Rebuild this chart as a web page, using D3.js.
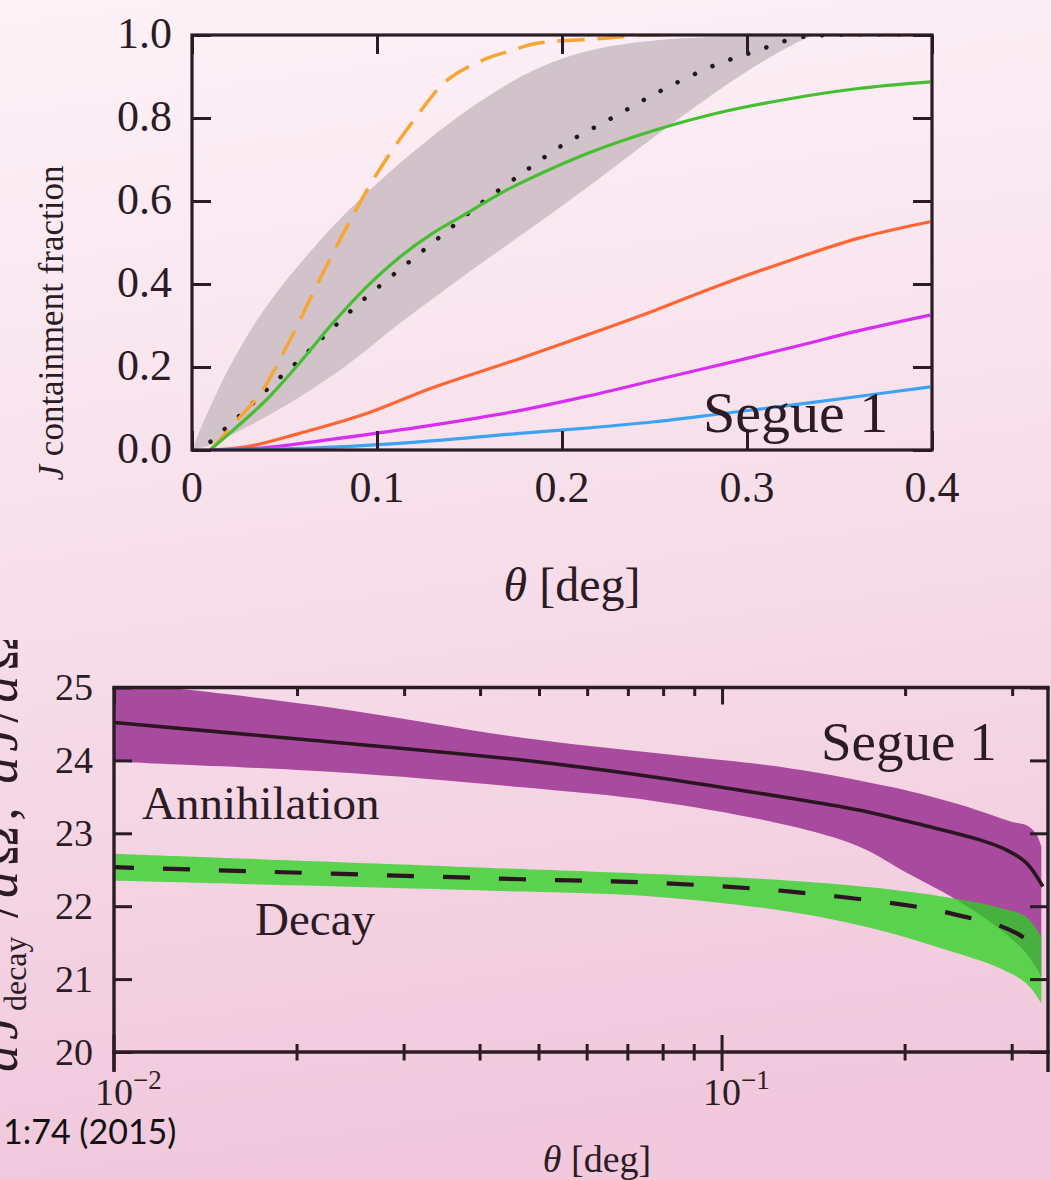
<!DOCTYPE html>
<html><head><meta charset="utf-8">
<script src="https://cdn.jsdelivr.net/npm/d3@7/dist/d3.min.js"></script>
<style>html,body{margin:0;padding:0;overflow:hidden;background:#f7e0ea}svg{display:block}</style>
</head><body>
<svg id="chart" width="1051" height="1180"></svg>
<script>
// ---------------- TOP PANEL DATA: J containment fraction vs theta [deg] ----------------
const topXTicks = [0, 0.1, 0.2, 0.3, 0.4];
const topXTickLabels = ["0", "0.1", "0.2", "0.3", "0.4"];
const topYTicks = [0, 0.2, 0.4, 0.6, 0.8, 1.0];
const topYTickLabels = ["0.0", "0.2", "0.4", "0.6", "0.8", "1.0"];

const bandUpper = [[0,0],[0.0043,0.048],[0.012,0.125],[0.0223,0.217],[0.035,0.312],[0.049,0.398],[0.062,0.468],[0.076,0.538],[0.094,0.618],[0.112,0.69],[0.13,0.756],[0.148,0.816],[0.165,0.866],[0.18,0.905],[0.2,0.943],[0.225,0.972],[0.25,0.987],[0.28,0.995],[0.31,0.999],[0.33,1.0],[0.4,1.0]];
const bandLower = [[0,0],[0.01,0.012],[0.022,0.038],[0.04,0.08],[0.058,0.127],[0.076,0.18],[0.094,0.24],[0.112,0.304],[0.13,0.364],[0.148,0.423],[0.177,0.515],[0.214,0.634],[0.25,0.755],[0.287,0.874],[0.31,0.94],[0.324,0.975],[0.338,1.0],[0.4,1.0]];
const dottedCurve = [[0.01,0.02],[0.027,0.088],[0.042,0.152],[0.058,0.217],[0.074,0.285],[0.09,0.352],[0.106,0.412],[0.122,0.47],[0.1385,0.53],[0.156,0.594],[0.172,0.646],[0.181,0.675],[0.199,0.731],[0.227,0.80],[0.254,0.867],[0.283,0.928],[0.304,0.96],[0.326,0.992],[0.345,1.0],[0.4,1.0]];
const orangeDashed = [[0.01,0.0],[0.0133,0.016],[0.025,0.075],[0.037,0.137],[0.053,0.265],[0.067,0.393],[0.0836,0.537],[0.0998,0.665],[0.1196,0.793],[0.1377,0.89],[0.1575,0.94],[0.1737,0.964],[0.1865,0.98],[0.223,0.992],[0.245,1.0],[0.4,1.0]];
const greenCurve = [[0.0097,0],[0.0223,0.048],[0.04,0.12],[0.058,0.209],[0.076,0.305],[0.0944,0.393],[0.1124,0.465],[0.13,0.522],[0.1485,0.57],[0.1665,0.618],[0.177,0.642],[0.214,0.715],[0.2505,0.771],[0.287,0.815],[0.324,0.847],[0.36,0.871],[0.399,0.887]];
const redCurve = [[0.01,0],[0.03,0.008],[0.058,0.04],[0.0944,0.088],[0.13,0.15],[0.177,0.22],[0.214,0.278],[0.2505,0.337],[0.287,0.40],[0.324,0.458],[0.36,0.51],[0.399,0.55]];
const magentaCurve = [[0.01,0],[0.04,0.006],[0.076,0.026],[0.13,0.06],[0.177,0.095],[0.214,0.13],[0.25,0.168],[0.287,0.207],[0.324,0.247],[0.36,0.287],[0.399,0.325]];
const blueCurve = [[0.01,0],[0.06,0.004],[0.112,0.016],[0.177,0.04],[0.214,0.053],[0.25,0.068],[0.287,0.088],[0.324,0.108],[0.36,0.129],[0.399,0.152]];

// ---------------- BOTTOM PANEL DATA: dJ/dOmega profiles vs theta [deg] (log) ----------------
const botXMajor = [0.01, 0.1];
const botXMajorLabels = [["10", "\u22122"], ["10", "\u22121"]];
const botXMinor = [0.02,0.03,0.04,0.05,0.06,0.07,0.08,0.09,0.2,0.3];
const botYTicks = [20, 21, 22, 23, 24, 25];
const botYTickLabels = ["20", "21", "22", "23", "24", "25"];

const annUpper = [[0.01,25.05],[0.0122,25.0],[0.023,24.72],[0.0469,24.31],[0.0776,24.10],[0.1297,23.89],[0.1908,23.63],[0.2465,23.39],[0.2988,23.16],[0.3167,23.11],[0.328,23.0],[0.335,22.82]];
const annLower = [[0.01,23.98],[0.023,23.84],[0.0469,23.63],[0.0776,23.44],[0.1297,23.10],[0.1678,22.82],[0.203,22.44],[0.2404,22.11],[0.2827,21.72],[0.3167,21.35],[0.335,21.03]];
const annCentral = [[0.01,24.52],[0.0203,24.29],[0.0469,24.005],[0.0776,23.77],[0.1297,23.48],[0.1678,23.32],[0.2169,23.10],[0.263,22.92],[0.294,22.77],[0.317,22.59],[0.337,22.27]];
const decUpper = [[0.01,22.72],[0.0469,22.51],[0.0776,22.44],[0.1297,22.35],[0.182,22.245],[0.2312,22.13],[0.2827,21.99],[0.3167,21.85],[0.335,21.58]];
const decLower = [[0.01,22.35],[0.0469,22.20],[0.0776,22.13],[0.1297,21.92],[0.182,21.67],[0.234,21.40],[0.2827,21.17],[0.3167,20.94],[0.335,20.67]];
const decCentral = [[0.01,22.535],[0.0469,22.37],[0.0776,22.32],[0.1297,22.20],[0.2169,21.97],[0.249,21.86],[0.28,21.76],[0.305,21.63],[0.32,21.52]];

// ---------------- STYLE ----------------
const serif = '"Liberation Serif","DejaVu Serif",serif';
const ink = "#2b1b25";

const svg = d3.select("#chart");
const defs = svg.append("defs");
const grad = defs.append("linearGradient").attr("id","bg").attr("x1",0).attr("y1",0).attr("x2",0.12).attr("y2",1);
grad.append("stop").attr("offset","0%").attr("stop-color","#fdf2f7");
grad.append("stop").attr("offset","50%").attr("stop-color","#f7dfea");
grad.append("stop").attr("offset","100%").attr("stop-color","#f1c8dc");
svg.append("rect").attr("width",1051).attr("height",1180).attr("fill","url(#bg)");

// ================= TOP PANEL =================
const xT = d3.scaleLinear().domain([0, 0.4]).range([192, 932]);
const yT = d3.scaleLinear().domain([0, 1]).range([450, 35]);

defs.append("clipPath").attr("id","clipTop").append("rect")
  .attr("x",xT(0)).attr("y",yT(1)).attr("width",xT(0.4)-xT(0)).attr("height",yT(0)-yT(1));

const gTop = svg.append("g").attr("clip-path","url(#clipTop)");
const lineT = d3.line().x(d=>xT(d[0])).y(d=>yT(d[1])).curve(d3.curveCatmullRom.alpha(0.5));
const bandPath = lineT(bandUpper) + "L" + lineT(bandLower.slice().reverse()).slice(1) + "Z";
gTop.append("path").attr("d", bandPath).attr("fill","#d2c3ca");

gTop.append("path").attr("d", lineT(dottedCurve)).attr("fill","none").attr("stroke","#241820")
  .attr("stroke-width",4.5).attr("stroke-linecap","round").attr("stroke-dasharray","0.1,19");
gTop.append("path").attr("d", lineT(orangeDashed)).attr("fill","none").attr("stroke","#f8a533")
  .attr("stroke-width",3.5).attr("stroke-dasharray","27,13");
const topSolid = [[greenCurve,"#47bd32"],[redCurve,"#ff6633"],[magentaCurve,"#d92ef2"],[blueCurve,"#3ea2f2"]];
topSolid.forEach(([data,col]) => {
  gTop.append("path").attr("d", lineT(data)).attr("fill","none").attr("stroke",col)
    .attr("stroke-width",3.2).attr("stroke-linejoin","round");
});

// ticks (inward on all four sides)
const tickStyle = g => { g.select(".domain").remove(); g.selectAll("line").attr("stroke",ink).attr("stroke-width",3); g.selectAll("text").remove(); };
svg.append("g").attr("transform",`translate(0,${yT(0)})`).call(d3.axisBottom(xT).tickValues(topXTicks).tickSize(-19)).call(tickStyle);
svg.append("g").attr("transform",`translate(0,${yT(1)})`).call(d3.axisTop(xT).tickValues(topXTicks).tickSize(-19)).call(tickStyle);
svg.append("g").attr("transform",`translate(${xT(0)},0)`).call(d3.axisLeft(yT).tickValues(topYTicks).tickSize(-19)).call(tickStyle);
svg.append("g").attr("transform",`translate(${xT(0.4)},0)`).call(d3.axisRight(yT).tickValues(topYTicks).tickSize(-19)).call(tickStyle);
svg.append("rect").attr("x",xT(0)).attr("y",yT(1)).attr("width",xT(0.4)-xT(0)).attr("height",yT(0)-yT(1))
  .attr("fill","none").attr("stroke",ink).attr("stroke-width",3.2);

// tick labels
svg.append("g").selectAll("text").data(topXTicks).join("text")
  .attr("x",d=>xT(d)).attr("y",yT(0)+52).attr("text-anchor","middle")
  .attr("font-family",serif).attr("font-size",44).attr("fill",ink)
  .text((d,i)=>topXTickLabels[i]);
svg.append("g").selectAll("text").data(topYTicks).join("text")
  .attr("x",xT(0)-20).attr("y",d=>yT(d)+13).attr("text-anchor","end")
  .attr("font-family",serif).attr("font-size",44).attr("fill",ink)
  .text((d,i)=>topYTickLabels[i]);

// Segue 1 label
svg.append("text").attr("x",703).attr("y",432).attr("font-family",serif).attr("font-size",58).attr("fill",ink).text("Segue 1");

// axis titles
const tX = svg.append("text").attr("x",572).attr("y",601).attr("text-anchor","middle")
  .attr("font-family",serif).attr("font-size",48).attr("fill",ink);
tX.append("tspan").attr("font-style","italic").text("\u03B8");
tX.append("tspan").text(" [deg]");
const tY = svg.append("text").attr("transform","translate(63,323) rotate(-90)").attr("text-anchor","middle")
  .attr("font-family",serif).attr("font-size",35).attr("fill",ink);
tY.append("tspan").attr("font-style","italic").text("J");
tY.append("tspan").text(" containment fraction");

// ================= BOTTOM PANEL =================
const xB = d3.scaleLog().domain([0.01, 0.3436]).range([114, 1048]);
const yB = d3.scaleLinear().domain([20, 25]).range([1052, 687.5]);

defs.append("clipPath").attr("id","clipBot").append("rect")
  .attr("x",xB(0.01)).attr("y",yB(25)).attr("width",xB(0.3436)-xB(0.01)).attr("height",yB(20)-yB(25));
const gBot = svg.append("g").attr("clip-path","url(#clipBot)");
const lineB = d3.line().x(d=>xB(d[0])).y(d=>yB(d[1])).curve(d3.curveCatmullRom.alpha(0.5));
const bandB = (up, lo) => lineB(up) + "L" + lineB(lo.slice().reverse()).slice(1) + "Z";
gBot.append("path").attr("d", bandB(annUpper, annLower)).attr("fill","#a84a9e");
gBot.append("path").attr("d", bandB(decUpper, decLower)).attr("fill","rgb(40,211,30)").attr("fill-opacity",0.75);
gBot.append("path").attr("d", lineB(annCentral)).attr("fill","none").attr("stroke","#2a1520").attr("stroke-width",3.6).attr("stroke-linejoin","round");
gBot.append("path").attr("d", lineB(decCentral)).attr("fill","none").attr("stroke","#2a1520").attr("stroke-width",4.2)
  .attr("stroke-dasharray","27,29").attr("stroke-dashoffset",7);

// ticks
const tickStyleB = g => { g.select(".domain").remove(); g.selectAll("line").attr("stroke",ink).attr("stroke-width",3); g.selectAll("text").remove(); };
svg.append("g").attr("transform",`translate(${xB(0.01)},0)`).call(d3.axisLeft(yB).tickValues(botYTicks).tickSize(-18)).call(tickStyleB);
svg.append("g").attr("transform",`translate(${xB(0.3436)},0)`).call(d3.axisRight(yB).tickValues(botYTicks).tickSize(-18)).call(tickStyleB);
svg.append("g").attr("transform",`translate(0,${yB(25)})`).call(d3.axisTop(xB).tickValues(botXMajor).tickSize(-17)).call(tickStyleB);
svg.append("g").attr("transform",`translate(0,${yB(25)})`).call(d3.axisTop(xB).tickValues(botXMinor).tickSize(-8.5)).call(tickStyleB);
// bottom ticks crossing the axis line
svg.append("g").selectAll("line").data(botXMajor).join("line")
  .attr("x1",d=>xB(d)).attr("x2",d=>xB(d)).attr("y1",yB(20)-17).attr("y2",yB(20)+19)
  .attr("stroke",ink).attr("stroke-width",3);
svg.append("g").selectAll("line").data(botXMinor).join("line")
  .attr("x1",d=>xB(d)).attr("x2",d=>xB(d)).attr("y1",yB(20)-8).attr("y2",yB(20)+8.5)
  .attr("stroke",ink).attr("stroke-width",3);
// spines
const spB = svg.append("g").attr("stroke",ink).attr("stroke-width",3.4).attr("stroke-linecap","square");
spB.append("line").attr("x1",xB(0.01)).attr("x2",xB(0.3436)).attr("y1",yB(25)).attr("y2",yB(25));
spB.append("line").attr("x1",xB(0.01)).attr("x2",xB(0.3436)).attr("y1",yB(20)).attr("y2",yB(20));
spB.append("line").attr("x1",xB(0.01)).attr("x2",xB(0.01)).attr("y1",yB(25)).attr("y2",yB(20)+20).attr("stroke-linecap","butt");
spB.append("line").attr("x1",xB(0.3436)).attr("x2",xB(0.3436)).attr("y1",yB(25)).attr("y2",yB(20)+20).attr("stroke-linecap","butt");

// tick labels
svg.append("g").selectAll("text").data(botYTicks).join("text")
  .attr("x",93).attr("y",d=>yB(d)+12.5).attr("text-anchor","end")
  .attr("font-family",serif).attr("font-size",38).attr("fill",ink)
  .text((d,i)=>botYTickLabels[i]);
const xl = svg.append("g").selectAll("g").data(botXMajor).join("g");
xl.append("text").attr("x",d=>xB(d)).attr("y",1105).attr("text-anchor","middle")
  .attr("font-family",serif).attr("font-size",38).attr("fill",ink).text((d,i)=>botXMajorLabels[i][0]);
xl.append("text").attr("x",d=>xB(d)+19).attr("y",1089)
  .attr("font-family",serif).attr("font-size",27).attr("fill",ink).text((d,i)=>botXMajorLabels[i][1]);

// in-plot labels
svg.append("text").attr("x",821).attr("y",760).attr("font-family",serif).attr("font-size",55).attr("fill",ink).text("Segue 1");
svg.append("text").attr("x",142).attr("y",819).attr("font-family",serif).attr("font-size",47).attr("fill",ink).text("Annihilation");
svg.append("text").attr("x",255).attr("y",935).attr("font-family",serif).attr("font-size",47).attr("fill",ink).text("Decay");

// axis titles
const bX = svg.append("text").attr("x",597).attr("y",1172).attr("text-anchor","middle")
  .attr("font-family",serif).attr("font-size",38).attr("fill",ink);
bX.append("tspan").attr("font-style","italic").text("\u03B8");
bX.append("tspan").text(" [deg]");

defs.append("clipPath").attr("id","clipLab").append("rect").attr("x",0).attr("y",640).attr("width",60).attr("height",540);
const bY = svg.append("g").attr("clip-path","url(#clipLab)").append("text")
  .attr("transform","translate(17,1072) rotate(-90)")
  .attr("font-family",serif).attr("font-size",54).attr("fill",ink);
bY.append("tspan").attr("font-style","italic").attr("letter-spacing",5).text("dJ");
bY.append("tspan").attr("font-size",32).attr("dy",9).text("decay");
bY.append("tspan").attr("dy",-9).attr("letter-spacing",5).text(" /");
bY.append("tspan").attr("font-style","italic").attr("letter-spacing",5).text("d");
bY.append("tspan").attr("letter-spacing",5).text("\u03A9, ");
bY.append("tspan").attr("font-style","italic").attr("letter-spacing",5).text("dJ");
bY.append("tspan").attr("letter-spacing",5).text("/");
bY.append("tspan").attr("font-style","italic").attr("letter-spacing",5).text("d");
bY.append("tspan").text("\u03A9");

// citation fragment
svg.append("text").attr("x",3).attr("y",1144).attr("font-family",'Lato,"Open Sans",sans-serif')
  .attr("font-size",34).attr("fill","#111").text("1:74 (2015)");
</script>
</body></html>
